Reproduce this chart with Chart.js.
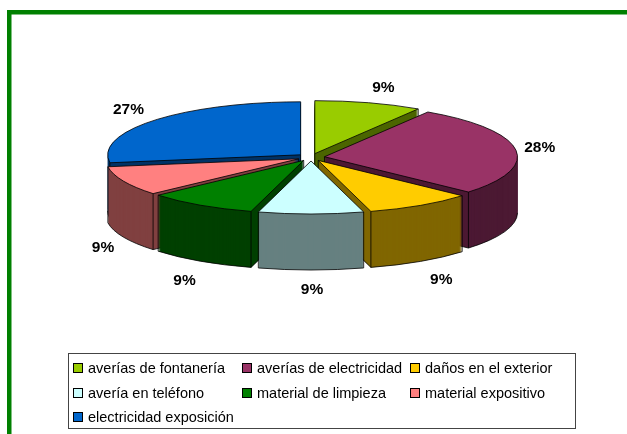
<!DOCTYPE html>
<html><head><meta charset="utf-8">
<style>html,body{margin:0;padding:0;background:#fff}#w{width:627px;height:434px;position:relative}canvas{display:block}</style>
<script src="https://cdn.jsdelivr.net/npm/chart.js@4"></script>
</head><body><div id="w"><canvas id="c" width="627" height="434"></canvas></div>
<script>
const categories = ['averías de fontanería','averías de electricidad','daños en el exterior','avería en teléfono','material de limpieza','material expositivo','electricidad exposición'];
const percentages = [9, 27.6, 9, 8.8, 9.2, 9, 27.4];
const topColors = ['#99CC00','#993366','#FFCC00','#CCFFFF','#008000','#FF8080','#0066CC'];
const wallColors = ['#4C6600','#4C1933','#806600','#668080','#004000','#804040','#003366'];

const TILT = 53/193, DEPTH = 56, LABEL_RX = 238, LABEL_RY = 72, LABEL_DROP = 60;
const labelNudge = [6,-7,4,1,1,8,-2];
const labelLift = [0,0,1,0,3,0,-1];

function shape(ctx, a, ox, oy, d){
  ctx.save();
  ctx.translate(a.x+ox, a.y+oy*TILT+d);
  ctx.scale(1,TILT);
  ctx.beginPath();
  ctx.moveTo(0,0);
  ctx.arc(0,0,a.outerRadius,a.startAngle,a.endAngle);
  ctx.closePath();
  ctx.restore();
}
function wallFaces(a, ang, mid){
  const ex=Math.cos(ang), ey=TILT*Math.sin(ang), mx=Math.cos(mid), my=TILT*Math.sin(mid);
  const cross=ex*my-ey*mx;
  return ex*cross<-1e-6;
}
const pie3d = {
  id:'pie3d',
  beforeDatasetDraw(chart,args){
    const ctx=chart.ctx, arcs=chart.getDatasetMeta(args.index).data;
    const order=arcs.map((a,i)=>i).sort((p,q)=>{
      const mp=(arcs[p].startAngle+arcs[p].endAngle)/2, mq=(arcs[q].startAngle+arcs[q].endAngle)/2;
      return Math.sin(mp)-Math.sin(mq);
    });
    ctx.save();
    ctx.lineJoin='round';
    order.forEach(i=>{
      const a=arcs[i], r=a.outerRadius, off=a.options.offset, s=a.startAngle, e=a.endAngle, m=(s+e)/2;
      const ox=Math.cos(m)*off, oy=Math.sin(m)*off;
      const tx=a.x+ox, ty=a.y+oy*TILT;
      ctx.fillStyle=wallColors[i];
      for(let d=DEPTH;d>=1;d--){ shape(ctx,a,ox,oy,d); ctx.fill(); }
      ctx.strokeStyle='#000'; ctx.lineWidth=.8;
      const fs=Math.max(s,0), fe=Math.min(e,Math.PI);
      if(fe>fs){
        ctx.save();ctx.translate(tx,ty+DEPTH);ctx.scale(1,TILT);ctx.beginPath();ctx.arc(0,0,r,fs,fe);ctx.restore();ctx.stroke();
      }
      let tip=false;
      [s,e].forEach(ang=>{
        const cx=tx+r*Math.cos(ang), cy=ty+r*TILT*Math.sin(ang);
        const vis=wallFaces(a,ang,m);
        if(vis){ tip=true; ctx.beginPath();ctx.moveTo(tx,ty+DEPTH);ctx.lineTo(cx,cy+DEPTH);ctx.stroke(); }
        if(vis||Math.sin(ang)>0){ ctx.beginPath();ctx.moveTo(cx,cy);ctx.lineTo(cx,cy+DEPTH);ctx.stroke(); }
      });
      if(tip){ ctx.beginPath();ctx.moveTo(tx,ty);ctx.lineTo(tx,ty+DEPTH);ctx.stroke(); }
      shape(ctx,a,ox,oy,0);
      ctx.fillStyle=topColors[i]; ctx.fill(); ctx.stroke();
    });
    // percentage labels
    ctx.fillStyle='#000'; ctx.font='bold 15.5px "Liberation Sans", Arial, sans-serif';
    ctx.textAlign='center'; ctx.textBaseline='middle';
    arcs.forEach((a,i)=>{
      const m=(a.startAngle+a.endAngle)/2;
      const lx=a.x+LABEL_RX*Math.cos(m)+labelNudge[i];
      const ly=a.y+LABEL_RY*Math.sin(m)+(Math.sin(m)>0.2?LABEL_DROP:0)+labelLift[i];
      ctx.fillText(Math.round(chart.data.datasets[0].data[i])+'%',lx,ly);
    });
    ctx.restore();
    return false;
  }
};
const frameAndLegend = {
  id:'frameAndLegend',
  beforeDraw(chart){
    const ctx=chart.ctx;
    ctx.save();
    ctx.fillStyle='#fff';ctx.fillRect(0,0,627,434);
    ctx.fillStyle='#008000';
    ctx.fillRect(7,10,620,4.5);
    ctx.fillRect(7,10,4.5,424);
    ctx.restore();
  },
  afterDraw(chart){
    const ctx=chart.ctx;
    ctx.save();
    ctx.strokeStyle='#444';ctx.lineWidth=1;
    ctx.strokeRect(68.5,353.5,507,75);
    ctx.font='14.5px "Liberation Sans", Arial, sans-serif';
    ctx.textAlign='left';ctx.textBaseline='middle';
    const colX=[73,242,410], rowY=[368,393,417];
    chart.data.labels.forEach((t,i)=>{
      const x=colX[i%3], y=rowY[Math.floor(i/3)];
      ctx.fillStyle=topColors[i];ctx.fillRect(x+.5,y-4.5,9,9);
      ctx.strokeStyle='#000';ctx.strokeRect(x+.5,y-4.5,9,9);
      ctx.fillStyle='#000';ctx.fillText(t,x+15,y+1);
    });
    ctx.restore();
  }
};
new Chart(document.getElementById('c'),{
  type:'pie',
  data:{labels:categories,datasets:[{data:percentages,backgroundColor:topColors,borderColor:'#000',borderWidth:1,offset:13.6}]},
  options:{
    responsive:false,animation:false,radius:193,
    layout:{padding:{left:0,right:5,top:0,bottom:119.5}},
    plugins:{legend:{display:false},tooltip:{enabled:false},title:{display:false}}
  },
  plugins:[frameAndLegend,pie3d]
});
</script></body></html>
